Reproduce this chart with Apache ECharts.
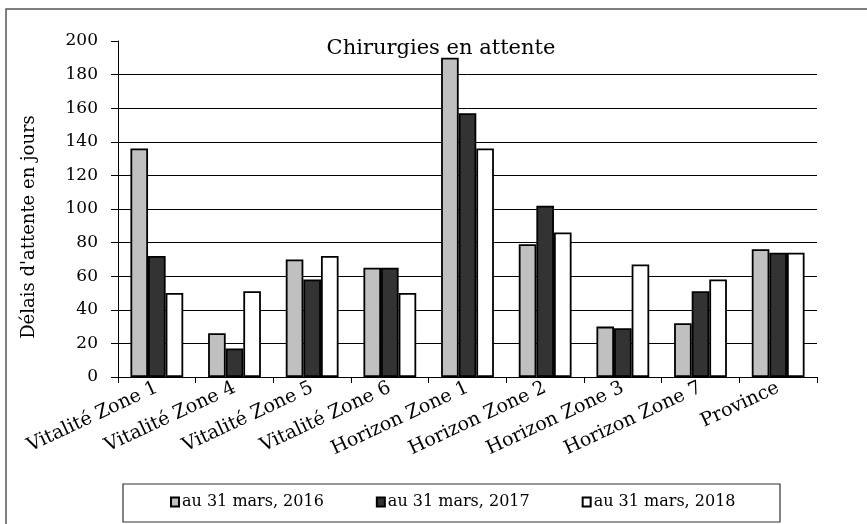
<!DOCTYPE html>
<html>
<head>
<meta charset="utf-8">
<script src="https://cdn.jsdelivr.net/npm/echarts@6/dist/echarts.min.js"></script>
<style>
  html, body { margin: 0; padding: 0; background: #fff; }
  #chart { width: 867px; height: 524px; }
</style>
</head>
<body>
<div id="chart"></div>
<script>
// categories and values
const categories = ['Vitalité Zone 1', 'Vitalité Zone 4', 'Vitalité Zone 5', 'Vitalité Zone 6',
  'Horizon Zone 1', 'Horizon Zone 2', 'Horizon Zone 3', 'Horizon Zone 7', 'Province'];
const seriesNames = ['au 31 mars, 2016', 'au 31 mars, 2017', 'au 31 mars, 2018'];
const values2016 = [136, 26, 70, 65, 190, 79, 30, 32, 76];
const values2017 = [72, 17, 58, 65, 157, 102, 29, 51, 74];
const values2018 = [50, 51, 72, 50, 136, 86, 67, 58, 74];
const yTicks = [0, 20, 40, 60, 80, 100, 120, 140, 160, 180, 200];

const font = 'DejaVu Serif';
const colors = ['#c0c0c0', '#333333', '#ffffff'];
const allValues = [values2016, values2017, values2018];

// grid lines at every tick except the top one (200)
const gridColors = yTicks.map((t, i) => (i === yTicks.length - 1 ? 'rgba(0,0,0,0)' : '#000'));

let myChart = echarts.init(document.getElementById('chart'));
const option = {
  animation: false,
  backgroundColor: '#fff',
  title: {
    text: 'Chirurgies en attente',
    left: 436,
    textAlign: 'center',
    top: 33,
    textStyle: { fontFamily: font, fontSize: 21, fontWeight: 'normal', color: '#000' }
  },
  graphic: [
    {
      type: 'rect',
      shape: { x: 6, y: 9, width: 870, height: 530 },
      style: { fill: 'none', stroke: '#555', lineWidth: 1.5 },
      z: -1
    },
    {
      type: 'rect',
      shape: { x: 123, y: 484, width: 657, height: 38 },
      style: { fill: 'none', stroke: '#333', lineWidth: 1.2 },
      z: -1
    }
  ],
  legend: {
    data: seriesNames,
    bottom: 9,
    left: 165,
    itemWidth: 8,
    itemHeight: 9,
    itemGap: 52,
    icon: 'rect',
    textStyle: { fontFamily: font, fontSize: 16, color: '#000', padding: [0, 0, 0, -2] }
  },
  grid: { left: 118, right: 50, top: 41, bottom: 147 },
  xAxis: {
    type: 'category',
    data: categories,
    axisLine: { lineStyle: { color: '#000', width: 1 } },
    axisTick: { show: true, length: 6, lineStyle: { color: '#000' } },
    axisLabel: {
      rotate: 25,
      interval: 0,
      margin: 10,
      fontFamily: font,
      fontSize: 19,
      color: '#000'
    }
  },
  yAxis: {
    type: 'value',
    min: 0,
    max: 200,
    interval: 20,
    name: "Délais d'attente en jours",
    nameLocation: 'middle',
    nameGap: 80,
    nameTextStyle: { fontFamily: font, fontSize: 18, color: '#000', padding: [0, 36, 0, 0] },
    axisLine: { show: true, lineStyle: { color: '#000', width: 1 } },
    axisTick: { show: true, length: 7, lineStyle: { color: '#000' } },
    axisLabel: { fontFamily: font, fontSize: 17, color: '#000', margin: 20 },
    splitLine: { show: true, lineStyle: { color: gridColors, width: 1 } }
  },
  series: seriesNames.map((name, i) => ({
    name: name,
    type: 'bar',
    data: allValues[i],
    barGap: '0%',
    barCategoryGap: '32%',
    itemStyle: { color: colors[i], borderColor: '#000', borderWidth: 1.8 }
  }))
};
myChart.setOption(option);
window.addEventListener('resize', function () {
  myChart.resize();
});
</script>
</body>
</html>
